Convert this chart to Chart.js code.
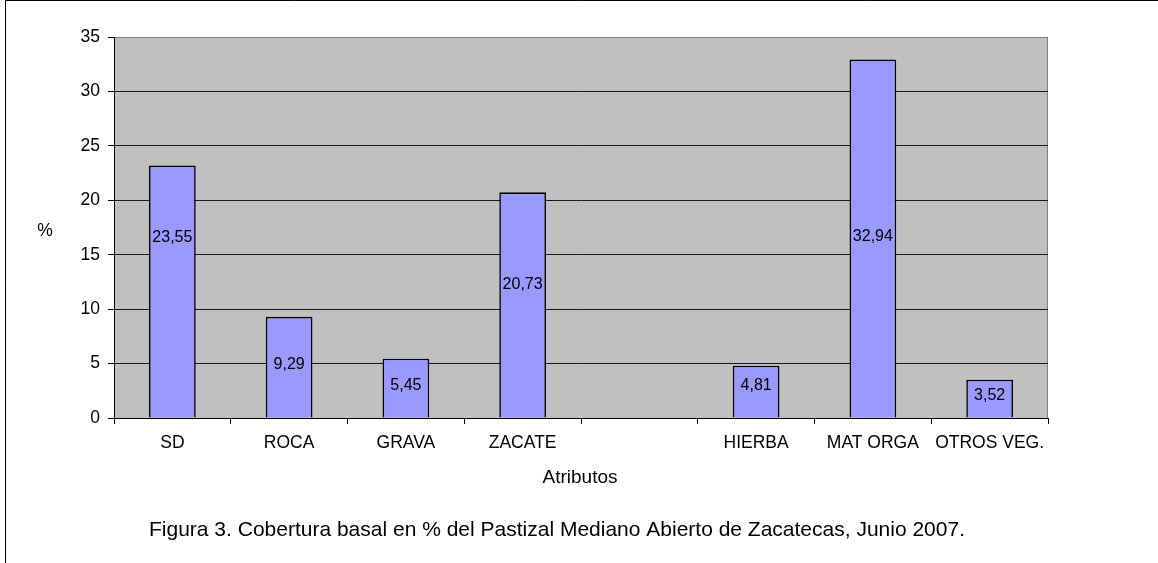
<!DOCTYPE html>
<html>
<head>
<meta charset="utf-8">
<script src="https://cdn.jsdelivr.net/npm/chart.js@4/dist/chart.umd.min.js"></script>
<style>
  body { margin: 0; background: #fff; }
</style>
</head>
<body>
<canvas id="myChart" width="1158" height="563"></canvas>
<script>
//  values
let categories = ['SD', 'ROCA', 'GRAVA', 'ZACATE', '', 'HIERBA', 'MAT ORGA', 'OTROS VEG.'],
    values = [23.2, 9.29, 5.45, 20.73, null, 4.81, 32.94, 3.52],
    valueLabels = ['23,55', '9,29', '5,45', '20,73', '', '4,81', '32,94', '3,52'],
    yTicks = [0, 5, 10, 15, 20, 25, 30, 35]

//  the value labels are placed by hand in the original, not centered (in % units)
let labelY = [16.6, 4.9, 3.0, 12.3, null, 3.0, 16.7, 2.1]

const FONT = '"Liberation Sans", Arial, sans-serif'
Chart.defaults.color = '#000'
Chart.defaults.font.family = FONT

//  plot background, frame and the free texts
const decor = {
  id: 'decor',
  beforeDraw(chart) {
    const ctx = chart.ctx, a = chart.chartArea
    ctx.save()
    ctx.fillStyle = '#fff'
    ctx.fillRect(0, 0, chart.width, chart.height)
    ctx.fillStyle = '#c0c0c0'
    ctx.fillRect(a.left, a.top, a.right - a.left, a.bottom - a.top)
    ctx.strokeStyle = '#808080'
    ctx.lineWidth = 1
    ctx.strokeRect(a.left + 0.5, a.top + 0.5, a.right - a.left - 1, a.bottom - a.top)
    // outer frame (left + top)
    ctx.strokeStyle = '#000'
    ctx.beginPath()
    ctx.moveTo(5.5, chart.height)
    ctx.lineTo(5.5, 0.5)
    ctx.lineTo(chart.width, 0.5)
    ctx.stroke()
    ctx.restore()
  },
  afterDraw(chart) {
    const ctx = chart.ctx, y = chart.scales.y
    const meta = chart.getDatasetMeta(0)
    ctx.save()
    ctx.fillStyle = '#000'
    ctx.textAlign = 'center'
    ctx.textBaseline = 'middle'
    ctx.font = '16px ' + FONT
    meta.data.forEach((bar, i) => {
      if (values[i] == null) return
      ctx.fillText(valueLabels[i], bar.x, y.getPixelForValue(labelY[i]))
    })
    ctx.font = '17.5px ' + FONT
    ctx.fillText('%', 45, 231)
    ctx.font = '19px ' + FONT
    ctx.fillText('Atributos', 580, 478)
    ctx.font = '21px ' + FONT
    ctx.textBaseline = 'alphabetic'
    ctx.fillText('Figura 3. Cobertura basal en % del Pastizal Mediano Abierto de Zacatecas, Junio 2007.', 557, 536)
    ctx.restore()
  }
}

const ctx = document.getElementById('myChart')

new Chart(ctx, {
  type: 'bar',
  data: {
    labels: categories,
    datasets: [{
      data: values,
      backgroundColor: '#9999ff',
      borderColor: '#000',
      borderWidth: 1.6,
      barPercentage: 0.4,
      categoryPercentage: 1
    }]
  },
  options: {
    responsive: false,
    animation: false,
    layout: { padding: { top: 37, right: 110, left: 0, bottom: 0 } },
    plugins: {
      legend: { display: false },
      tooltip: { enabled: false }
    },
    scales: {
      x: {
        afterFit(scale) { scale.height = 145 },
        grid: { offset: true, drawOnChartArea: false, tickLength: 6, color: '#000' },
        border: { color: '#000' },
        ticks: { autoSkip: false, maxRotation: 0, padding: 9, font: { size: 17.5 } }
      },
      y: {
        min: yTicks[0],
        max: yTicks[yTicks.length - 1],
        afterFit(scale) { scale.width = 114 },
        afterBuildTicks(scale) { scale.ticks = yTicks.map(v => ({ value: v })) },
        grid: {
          color: c => c.tick && c.tick.value === 35 ? 'rgba(0,0,0,0)' : '#1a1a1a',
          tickColor: '#000',
          tickLength: 6
        },
        border: { color: '#000' },
        ticks: { padding: 8, font: { size: 17.5 } }
      }
    }
  },
  plugins: [decor]
})
</script>
</body>
</html>
